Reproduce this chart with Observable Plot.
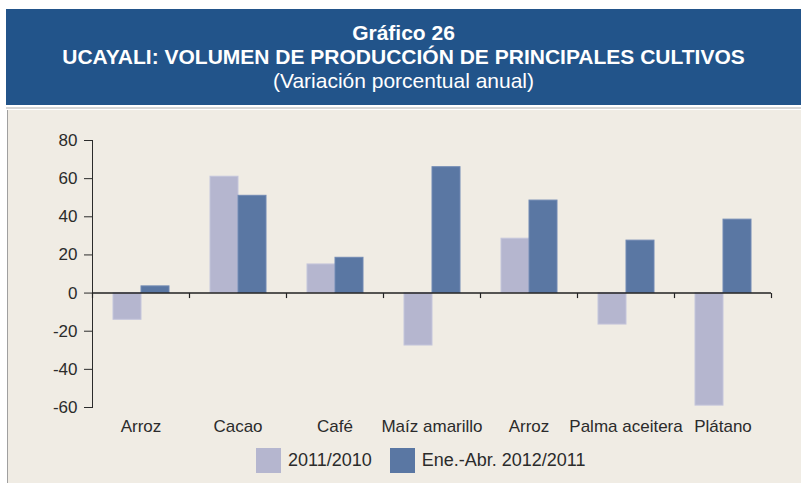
<!DOCTYPE html>
<html>
<head>
<meta charset="utf-8">
<script src="https://cdn.jsdelivr.net/npm/d3@7"></script>
<script src="https://cdn.jsdelivr.net/npm/@observablehq/plot@0.6"></script>
<style>
  html, body { margin: 0; padding: 0; background: #ffffff; }
  body { width: 801px; height: 483px; position: relative; overflow: hidden; font-family: "Liberation Sans", Arial, sans-serif; }
  #header { position: absolute; left: 6px; top: 9px; width: 795px; height: 96px; background: #22548a; color: #ffffff; text-align: center; }
  #header div { font-size: 21px; line-height: 24px; white-space: nowrap; }
  #header .b { font-weight: bold; }
  #sep { position: absolute; left: 6px; top: 107px; width: 795px; height: 2px; background: #d6d6d6; }
  #panel { position: absolute; left: 7px; top: 110px; width: 794px; height: 373px; background: #f0ece4; border-left: 1px solid #a0a0a0; }
  #chart { position: absolute; left: 0; top: 110px; }
  #legend { position: absolute; top: 448px; left: 256px; display: flex; align-items: center; font-size: 18px; color: #2b2b2b; }
  #legend .sw { width: 25px; height: 25px; margin-right: 7px; }
  #legend .it { display: flex; align-items: center; margin-right: 18px; }
</style>
</head>
<body>
<div id="header">
  <div class="b" style="margin-top:12px">Gráfico 26</div>
  <div class="b">UCAYALI: VOLUMEN DE PRODUCCIÓN DE PRINCIPALES CULTIVOS</div>
  <div>(Variación porcentual anual)</div>
</div>
<div id="sep"></div>
<div id="panel"></div>
<div id="chart"></div>
<div id="legend"></div>
<script>
const categories = ["Arroz", "Cacao", "Café", "Maíz amarillo", "Arroz", "Palma aceitera", "Plátano"];
const series = ["2011/2010", "Ene.-Abr. 2012/2011"];
const values2011 = [-14, 61, 15, -27.5, 28.5, -16.5, -59];
const values2012 = [3.5, 51, 18.5, 66, 48.5, 27.5, 38.5];
const yTicks = [-60, -40, -20, 0, 20, 40, 60, 80];

const colors = ["#b5b6cf", "#5a77a3"];
const strokes = ["#c4c5db", "#7189b3"];

const rows = [];
categories.forEach((c, i) => {
  rows.push({i, series: series[0], value: values2011[i]});
  rows.push({i, series: series[1], value: values2012[i]});
});
const cats = categories.map((c, i) => ({i, last: i === categories.length - 1}));

const tickSymbol = {
  draw(ctx, size) {
    const l = Math.sqrt(size / Math.PI) * 2;
    ctx.moveTo(0, 0);
    ctx.lineTo(0, l);
  }
};

const chart = Plot.plot({
  width: 801,
  height: 330,
  marginLeft: 91,
  marginRight: 29,
  marginTop: 30,
  marginBottom: 33,
  style: {fontFamily: "Liberation Sans, Arial, sans-serif", fontSize: "17px", color: "#2b2b2b", background: "transparent", overflow: "visible"},
  fx: {domain: d3.range(categories.length), padding: 0, axis: "bottom", tickSize: 0, tickPadding: 12, tickFormat: i => categories[i], label: null},
  x: {domain: series, paddingInner: 0, paddingOuter: 0.68, axis: null},
  y: {domain: [-60, 80], ticks: yTicks, tickSize: 8, tickPadding: 7, tickFormat: d => String(d), line: true, label: null},
  color: {domain: series, range: colors},
  marks: [
    Plot.barY(rows, {fx: "i", x: "series", y: "value", fill: "series", stroke: d => strokes[series.indexOf(d.series)], strokeWidth: 1}),
    Plot.ruleY(cats, {fx: "i", y: () => 0, stroke: "#222", strokeWidth: 1.4}),
    Plot.dot(cats, {fx: "i", y: () => 0, frameAnchor: "left", symbol: tickSymbol, r: 2.5, stroke: "#222", fill: "none", strokeWidth: 1.2}),
    Plot.dot(cats.filter(d => d.last), {fx: "i", y: () => 0, frameAnchor: "right", symbol: tickSymbol, r: 2.5, stroke: "#222", fill: "none", strokeWidth: 1.2})
  ]
});
document.getElementById("chart").appendChild(chart);

const legend = document.getElementById("legend");
series.forEach((s, k) => {
  const it = document.createElement("div");
  it.className = "it";
  const sw = document.createElement("div");
  sw.className = "sw";
  sw.style.background = colors[k];
  const t = document.createElement("span");
  t.textContent = s;
  it.appendChild(sw);
  it.appendChild(t);
  legend.appendChild(it);
});
</script>
</body>
</html>
